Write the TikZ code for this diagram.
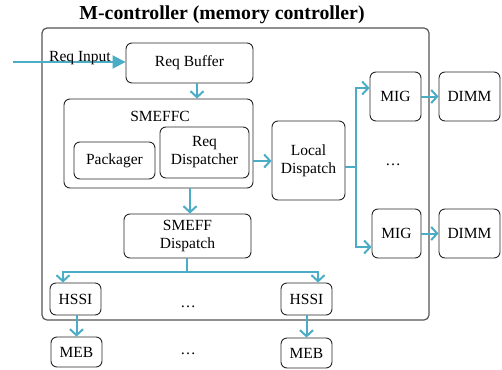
\documentclass[tikz,border=0pt]{standalone}
\usepackage{fontspec}
\setmainfont{Liberation Serif}
\usetikzlibrary{arrows.meta,calc}
\definecolor{arrc}{HTML}{4BACC6}
\definecolor{outerc}{HTML}{555555}
\begin{document}
\begin{tikzpicture}[x=1pt,y=-1pt,
  box/.style={draw=black!85,line width=0.9pt,rounded corners=6pt,inner sep=1pt,align=center,font=\fontsize{15.5}{18}\selectfont},
  lbl/.style={inner sep=0pt,font=\fontsize{15.5}{18}\selectfont},
  conn/.style={draw=arrc,line width=2pt},
  arr/.style={conn,-{Straight Barb[length=6pt,width=13pt,line width=2pt]}},
  farr/.style={conn,-{Triangle[length=13pt,width=13pt]}}]
\useasboundingbox (0,0) rectangle (502,369);
% title
\node[inner sep=0pt,font=\fontsize{19.8}{22}\selectfont\bfseries] (title) at (222,15) {M-controller (memory controller)};
% outer box
\node[draw=outerc,line width=1.2pt,rounded corners=5pt,minimum width=387pt,minimum height=292pt,inner sep=0pt] (outer) at (235.5,174) {};
% boxes
\node[box,minimum width=127pt,minimum height=40pt] (rb) at (189.5,63) {Req Buffer};
\node[box,minimum width=189pt,minimum height=89pt] (smeffc) at (158.5,143.5) {};
\node[lbl] (smeffclbl) at (160,116) {SMEFFC};
\node[box,minimum width=81pt,minimum height=37pt] (pack) at (114.5,160.5) {Packager};
\node[box,minimum width=89pt,minimum height=51pt] (rd) at (204.5,152.5) {Req\\Dispatcher};
\node[box,minimum width=73pt,minimum height=79pt] (ld) at (308.5,160.5) {Local\\Dispatch};
\node[box,minimum width=51pt,minimum height=49pt] (mig1) at (395.5,96.5) {MIG};
\node[box,minimum width=49pt,minimum height=49pt] (mig2) at (396.5,233.5) {MIG};
\node[box,minimum width=61pt,minimum height=49pt] (dimm1) at (469.5,96.5) {DIMM};
\node[box,minimum width=61pt,minimum height=49pt] (dimm2) at (469.5,233.5) {DIMM};
\node[box,minimum width=127pt,minimum height=44pt] (sd) at (187.5,236) {SMEFF\\Dispatch};
\node[box,minimum width=51pt,minimum height=32pt] (hssi1) at (75.5,299) {HSSI};
\node[box,minimum width=51pt,minimum height=32pt] (hssi2) at (306.5,299) {HSSI};
\node[box,minimum width=51pt,minimum height=30pt] (meb1) at (76.5,352) {MEB};
\node[box,minimum width=51pt,minimum height=30pt] (meb2) at (306.5,353) {MEB};
% dots
\node[lbl] (dots1) at (393,165) {\ldots};
\node[lbl] (dots2) at (188,307) {\ldots};
\node[lbl] (dots3) at (188,354) {\ldots};
% helper coordinates
\coordinate (inp) at (13,62);
\coordinate (x197) at (197,0);
\coordinate (y161) at (0,161);
\coordinate (j) at (356,167);
\coordinate (m1) at (0,88);
\coordinate (m2) at (0,247);
\coordinate (x190) at (190,0);
\coordinate (h) at (187,272);
\coordinate (hl) at (63,0);
\coordinate (hr) at (318,0);
% connectors
\draw[farr] (inp) -- (rb.west |- inp);
\node[lbl,anchor=base] (reqin) at (80,61) {Req Input};
\draw[arr] (rb.south -| x197) -- (smeffc.north -| x197);
\draw[arr] (smeffc.east |- y161) -- (ld.west |- y161);
\draw[conn] (ld.east |- j) -- (j);
\draw[arr] (j) |- (mig1.west |- m1);
\draw[arr] (j) |- (mig2.west |- m2);
\draw[arr] (mig1.east) -- (dimm1.west);
\draw[arr] (mig2.east) -- (dimm2.west);
\draw[arr] (smeffc.south -| x190) -- (sd.north -| x190);
\draw[conn] (sd.south -| h) -- (h);
\draw[arr] (h) -| (hssi1.north -| hl);
\draw[arr] (h) -| (hssi2.north -| hr);
\draw[arr] (hssi1.south -| meb1.north) -- (meb1.north);
\draw[arr] (hssi2.south) -- (meb2.north);
\end{tikzpicture}
\end{document}
